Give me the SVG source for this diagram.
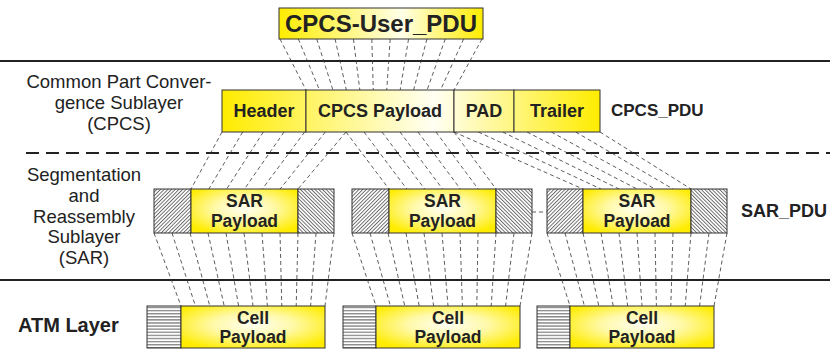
<svg xmlns="http://www.w3.org/2000/svg" width="830" height="350" viewBox="0 0 830 350">
<style>
text{font-family:"Liberation Sans",Arial,sans-serif;fill:#222}
.lbl{font-size:18.5px;text-anchor:middle}
.b{font-weight:bold;text-anchor:middle}
.box{stroke:#333;stroke-width:1}
.hat{stroke:#333;stroke-width:1}
.sep{stroke:#222;stroke-width:2}
.dl{stroke:#222;stroke-width:2;stroke-dasharray:13 7}
.c line{stroke:#333;stroke-width:0.8;stroke-dasharray:4 3;fill:none}
</style>
<defs>
<radialGradient id="yg" cx="0.5" cy="0.45" r="0.62">
<stop offset="0" stop-color="#FFFFF2"/>
<stop offset="0.45" stop-color="#FFF9A8"/>
<stop offset="1" stop-color="#FFEC00"/>
</radialGradient>
<linearGradient id="rowg" gradientUnits="userSpaceOnUse" x1="222" y1="0" x2="600" y2="0">
<stop offset="0" stop-color="#FFEC00"/>
<stop offset="0.56" stop-color="#FFFFF4"/>
<stop offset="1" stop-color="#FFEC00"/>
</linearGradient>
<linearGradient id="topg" x1="0" y1="0" x2="1" y2="0">
<stop offset="0" stop-color="#FFEC00"/>
<stop offset="0.6" stop-color="#FFFFE8"/>
<stop offset="1" stop-color="#FFEC00"/>
</linearGradient>
<pattern id="hf" patternUnits="userSpaceOnUse" width="2.6" height="2.6" patternTransform="rotate(45)">
<rect width="2.6" height="2.6" fill="#fff"/>
<line x1="0.5" y1="0" x2="0.5" y2="2.6" stroke="#333" stroke-width="0.7"/>
</pattern>
<pattern id="hb" patternUnits="userSpaceOnUse" width="2.6" height="2.6" patternTransform="rotate(-45)">
<rect width="2.6" height="2.6" fill="#fff"/>
<line x1="0.5" y1="0" x2="0.5" y2="2.6" stroke="#333" stroke-width="0.7"/>
</pattern>
<pattern id="hh" patternUnits="userSpaceOnUse" width="10" height="3.1" y="306">
<rect width="10" height="3.1" fill="#fff"/>
<line x1="0" y1="1.5" x2="10" y2="1.5" stroke="#333" stroke-width="0.8"/>
</pattern>
</defs>

<g id="layers">
<line class="sep" x1="0" y1="61" x2="830" y2="61"/>
<line class="dl" x1="26" y1="153" x2="830" y2="153"/>
<line class="sep" x1="0" y1="280" x2="830" y2="280"/>
<text class="lbl" x="119" y="88">Common Part Conver-</text>
<text class="lbl" x="119" y="109">gence Sublayer</text>
<text class="lbl" x="119" y="130">(CPCS)</text>
<text class="lbl" x="84" y="181">Segmentation</text>
<text class="lbl" x="84" y="202">and</text>
<text class="lbl" x="84" y="223">Reassembly</text>
<text class="lbl" x="84" y="243">Sublayer</text>
<text class="lbl" x="84" y="264">(SAR)</text>
<text x="18" y="332" style="font-size:20px;font-weight:bold">ATM Layer</text>
</g>

<g id="connectors" class="c">
<line x1="280" y1="39" x2="306" y2="90"/>
<line x1="298.36" y1="39" x2="319.45" y2="90"/>
<line x1="316.73" y1="39" x2="332.91" y2="90"/>
<line x1="335.09" y1="39" x2="346.36" y2="90"/>
<line x1="353.45" y1="39" x2="359.82" y2="90"/>
<line x1="371.82" y1="39" x2="373.27" y2="90"/>
<line x1="390.18" y1="39" x2="386.73" y2="90"/>
<line x1="408.55" y1="39" x2="400.18" y2="90"/>
<line x1="426.91" y1="39" x2="413.64" y2="90"/>
<line x1="445.27" y1="39" x2="427.09" y2="90"/>
<line x1="463.64" y1="39" x2="440.55" y2="90"/>
<line x1="482" y1="39" x2="454" y2="90"/>

<line x1="222" y1="132" x2="191" y2="189"/>
<line x1="242.67" y1="132" x2="208.83" y2="189"/>
<line x1="263.33" y1="132" x2="226.67" y2="189"/>
<line x1="284" y1="132" x2="244.5" y2="189"/>
<line x1="304.67" y1="132" x2="262.33" y2="189"/>
<line x1="325.33" y1="132" x2="280.17" y2="189"/>
<line x1="346" y1="132" x2="298" y2="189"/>

<line x1="346" y1="132" x2="389" y2="189"/>
<line x1="364" y1="132" x2="406.83" y2="189"/>
<line x1="382" y1="132" x2="424.67" y2="189"/>
<line x1="400" y1="132" x2="442.5" y2="189"/>
<line x1="418" y1="132" x2="460.33" y2="189"/>
<line x1="436" y1="132" x2="478.17" y2="189"/>
<line x1="454" y1="132" x2="496" y2="189"/>

<line x1="454" y1="132" x2="583" y2="189"/>
<line x1="478.33" y1="132" x2="601" y2="189"/>
<line x1="502.67" y1="132" x2="619" y2="189"/>
<line x1="527" y1="132" x2="637" y2="189"/>
<line x1="551.33" y1="132" x2="655" y2="189"/>
<line x1="575.67" y1="132" x2="673" y2="189"/>
<line x1="600" y1="132" x2="691" y2="189"/>

<line x1="154" y1="233" x2="181" y2="306"/>
<line x1="172" y1="233" x2="195.4" y2="306"/>
<line x1="190" y1="233" x2="209.8" y2="306"/>
<line x1="208" y1="233" x2="224.2" y2="306"/>
<line x1="226" y1="233" x2="238.6" y2="306"/>
<line x1="244" y1="233" x2="253" y2="306"/>
<line x1="262" y1="233" x2="267.4" y2="306"/>
<line x1="280" y1="233" x2="281.8" y2="306"/>
<line x1="298" y1="233" x2="296.2" y2="306"/>
<line x1="316" y1="233" x2="310.6" y2="306"/>
<line x1="334" y1="233" x2="325" y2="306"/>

<line x1="352" y1="233" x2="376" y2="306"/>
<line x1="370" y1="233" x2="390.4" y2="306"/>
<line x1="388" y1="233" x2="404.8" y2="306"/>
<line x1="406" y1="233" x2="419.2" y2="306"/>
<line x1="424" y1="233" x2="433.6" y2="306"/>
<line x1="442" y1="233" x2="448" y2="306"/>
<line x1="460" y1="233" x2="462.4" y2="306"/>
<line x1="478" y1="233" x2="476.8" y2="306"/>
<line x1="496" y1="233" x2="491.2" y2="306"/>
<line x1="514" y1="233" x2="505.6" y2="306"/>
<line x1="532" y1="233" x2="520" y2="306"/>

<line x1="547" y1="233" x2="570" y2="306"/>
<line x1="565" y1="233" x2="584.4" y2="306"/>
<line x1="583" y1="233" x2="598.8" y2="306"/>
<line x1="601" y1="233" x2="613.2" y2="306"/>
<line x1="619" y1="233" x2="627.6" y2="306"/>
<line x1="637" y1="233" x2="642" y2="306"/>
<line x1="655" y1="233" x2="656.4" y2="306"/>
<line x1="673" y1="233" x2="670.8" y2="306"/>
<line x1="691" y1="233" x2="685.2" y2="306"/>
<line x1="709" y1="233" x2="699.6" y2="306"/>
<line x1="727" y1="233" x2="714" y2="306"/>

<line x1="532" y1="212" x2="547" y2="212"/>
</g>

<g id="cpcs-user-pdu">
<rect class="box" x="279" y="8" width="204" height="31" fill="url(#topg)"/>
<text class="b" x="381" y="32" style="font-size:24px">CPCS-User_PDU</text>
</g>

<g id="header">
<rect class="box" x="222" y="90" width="84" height="42" fill="url(#rowg)"/>
<text class="b" x="264" y="117" style="font-size:18px">Header</text>
</g>
<g id="cpcs-payload">
<rect class="box" x="306" y="90" width="148" height="42" fill="url(#rowg)"/>
<text class="b" x="380" y="117" style="font-size:18px">CPCS Payload</text>
</g>
<g id="pad">
<rect class="box" x="454" y="90" width="60" height="42" fill="url(#rowg)"/>
<text class="b" x="484" y="117" style="font-size:18px">PAD</text>
</g>
<g id="trailer">
<rect class="box" x="514" y="90" width="86" height="42" fill="url(#rowg)"/>
<text class="b" x="557" y="117" style="font-size:18px">Trailer</text>
</g>
<g id="cpcs-pdu-label">
<text x="611" y="116" style="font-size:17px;font-weight:bold">CPCS_PDU</text>
</g>

<g id="sar1">
<rect class="hat" x="154" y="189" width="37" height="44" fill="url(#hf)"/>
<rect class="box" x="191" y="189" width="107" height="44" fill="url(#yg)"/>
<rect class="hat" x="298" y="189" width="36" height="44" fill="url(#hb)"/>
<text class="b" x="244.5" y="207" style="font-size:17.5px">SAR</text>
<text class="b" x="244.5" y="227" style="font-size:17.5px">Payload</text>
</g>
<g id="sar2">
<rect class="hat" x="352" y="189" width="37" height="44" fill="url(#hf)"/>
<rect class="box" x="389" y="189" width="107" height="44" fill="url(#yg)"/>
<rect class="hat" x="496" y="189" width="36" height="44" fill="url(#hb)"/>
<text class="b" x="442.5" y="207" style="font-size:17.5px">SAR</text>
<text class="b" x="442.5" y="227" style="font-size:17.5px">Payload</text>
</g>
<g id="sar3">
<rect class="hat" x="547" y="189" width="36" height="44" fill="url(#hf)"/>
<rect class="box" x="583" y="189" width="108" height="44" fill="url(#yg)"/>
<rect class="hat" x="691" y="189" width="36" height="44" fill="url(#hb)"/>
<text class="b" x="637" y="207" style="font-size:17.5px">SAR</text>
<text class="b" x="637" y="227" style="font-size:17.5px">Payload</text>
</g>
<g id="sar-pdu-label">
<text x="741" y="217" style="font-size:18px;font-weight:bold">SAR_PDU</text>
</g>

<g id="cell1">
<rect class="hat" x="147" y="306" width="34" height="42" fill="url(#hh)"/>
<rect class="box" x="181" y="306" width="144" height="42" fill="url(#yg)"/>
<text class="b" x="253" y="324" style="font-size:17.5px">Cell</text>
<text class="b" x="253" y="343" style="font-size:17.5px">Payload</text>
</g>
<g id="cell2">
<rect class="hat" x="343" y="306" width="33" height="42" fill="url(#hh)"/>
<rect class="box" x="376" y="306" width="144" height="42" fill="url(#yg)"/>
<text class="b" x="448" y="324" style="font-size:17.5px">Cell</text>
<text class="b" x="448" y="343" style="font-size:17.5px">Payload</text>
</g>
<g id="cell3">
<rect class="hat" x="537" y="306" width="33" height="42" fill="url(#hh)"/>
<rect class="box" x="570" y="306" width="144" height="42" fill="url(#yg)"/>
<text class="b" x="642" y="324" style="font-size:17.5px">Cell</text>
<text class="b" x="642" y="343" style="font-size:17.5px">Payload</text>
</g>
</svg>
